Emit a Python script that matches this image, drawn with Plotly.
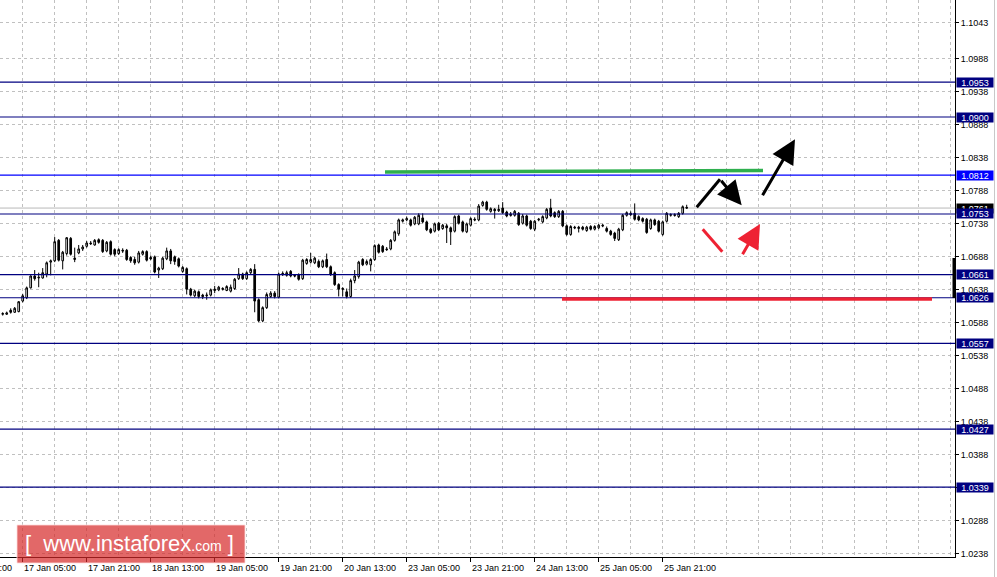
import plotly.graph_objects as go

# ---------------- data ----------------
bar_index = list(range(-5, 167))  # H1 bars, 0 = 17 Jan 05:00

opens = [1.0601,1.0601,1.0607,1.0604,1.0605,
 1.0621,1.0626,1.0641,1.0659,1.0656,1.0656,1.0662,1.0680,1.0682,1.0713,
 1.0682,1.0693,1.0716,1.0684,1.0694,1.0700,1.0704,1.0709,1.0706,1.0714,
 1.0713,1.0697,1.0711,1.0699,1.0693,1.0698,1.0698,1.0687,1.0684,1.0680,
 1.0692,1.0696,1.0687,1.0688,1.0668,1.0670,1.0685,1.0697,1.0688,1.0685,
 1.0666,1.0670,1.0639,1.0629,1.0635,1.0630,1.0629,1.0630,1.0637,1.0638,
 1.0640,1.0637,1.0636,1.0640,1.0655,1.0662,1.0655,1.0664,1.0669,1.0623,
 1.0591,1.0611,1.0628,1.0633,1.0627,1.0661,1.0660,1.0666,1.0660,1.0661,
 1.0655,1.0678,1.0680,1.0679,1.0681,1.0673,1.0684,1.0673,1.0664,1.0646,
 1.0640,1.0635,1.0628,1.0652,1.0658,1.0684,1.0677,1.0676,1.0684,1.0706,
 1.0704,1.0700,1.0700,1.0713,1.0723,1.0742,1.0744,1.0744,1.0738,1.0738,
 1.0747,1.0741,1.0730,1.0727,1.0739,1.0731,1.0735,1.0732,1.0727,1.0750,
 1.0741,1.0726,1.0736,1.0745,1.0744,1.0766,1.0771,1.0757,1.0760,1.0758,
 1.0762,1.0756,1.0753,1.0751,1.0754,1.0739,1.0750,1.0742,1.0730,1.0744,
 1.0741,1.0747,1.0762,1.0755,1.0749,1.0757,1.0735,1.0722,1.0733,1.0731,
 1.0733,1.0728,1.0734,1.0730,1.0732,1.0736,1.0731,1.0727,1.0724,1.0714,
 1.0729,1.0751,1.0754,1.0754,1.0749,1.0746,1.0745,1.0731,1.0744,1.0742,
 1.0722,1.0742,1.0751,1.0752,1.0749,1.0754,1.0763]

highs = [1.0604,1.0605,1.0610,1.0612,1.0621,
 1.0632,1.0643,1.0660,1.0668,1.0664,1.0671,1.0681,1.0684,1.0718,1.0715,
 1.0697,1.0718,1.0718,1.0702,1.0706,1.0706,1.0712,1.0712,1.0715,1.0716,
 1.0715,1.0712,1.0713,1.0701,1.0701,1.0701,1.0700,1.0689,1.0688,1.0697,
 1.0698,1.0698,1.0690,1.0690,1.0673,1.0688,1.0702,1.0700,1.0690,1.0687,
 1.0674,1.0672,1.0641,1.0638,1.0637,1.0632,1.0634,1.0640,1.0644,1.0644,
 1.0642,1.0645,1.0646,1.0656,1.0671,1.0664,1.0666,1.0671,1.0677,1.0625,
 1.0613,1.0634,1.0636,1.0636,1.0664,1.0666,1.0667,1.0668,1.0662,1.0663,
 1.0685,1.0686,1.0694,1.0688,1.0684,1.0684,1.0693,1.0675,1.0666,1.0648,
 1.0642,1.0640,1.0655,1.0668,1.0682,1.0686,1.0684,1.0686,1.0707,1.0708,
 1.0706,1.0703,1.0715,1.0728,1.0746,1.0746,1.0749,1.0746,1.0750,1.0754,
 1.0754,1.0743,1.0732,1.0740,1.0741,1.0738,1.0738,1.0734,1.0751,1.0752,
 1.0743,1.0740,1.0748,1.0748,1.0768,1.0773,1.0773,1.0763,1.0762,1.0767,
 1.0771,1.0758,1.0756,1.0759,1.0756,1.0753,1.0752,1.0744,1.0744,1.0747,
 1.0751,1.0762,1.0776,1.0757,1.0759,1.0759,1.0737,1.0736,1.0735,1.0735,
 1.0735,1.0735,1.0736,1.0736,1.0738,1.0738,1.0734,1.0729,1.0726,1.0732,
 1.0753,1.0757,1.0757,1.0769,1.0751,1.0748,1.0747,1.0746,1.0746,1.0744,
 1.0743,1.0756,1.0754,1.0754,1.0756,1.0766,1.0767]

lows = [1.0599,1.0600,1.0602,1.0603,1.0604,
 1.0619,1.0624,1.0640,1.0652,1.0642,1.0655,1.0657,1.0660,1.0680,1.0681,
 1.0669,1.0690,1.0690,1.0680,1.0692,1.0697,1.0702,1.0706,1.0705,1.0708,
 1.0694,1.0695,1.0690,1.0689,1.0691,1.0694,1.0682,1.0679,1.0676,1.0678,
 1.0690,1.0681,1.0683,1.0663,1.0656,1.0668,1.0683,1.0677,1.0676,1.0672,
 1.0664,1.0631,1.0628,1.0627,1.0625,1.0624,1.0623,1.0628,1.0633,1.0636,
 1.0637,1.0636,1.0634,1.0638,1.0653,1.0653,1.0653,1.0662,1.0604,1.0589,
 1.0589,1.0609,1.0626,1.0625,1.0625,1.0659,1.0658,1.0657,1.0657,1.0652,
 1.0653,1.0676,1.0678,1.0677,1.0671,1.0671,1.0671,1.0659,1.0644,1.0628,
 1.0628,1.0625,1.0626,1.0648,1.0655,1.0674,1.0675,1.0666,1.0682,1.0693,
 1.0694,1.0697,1.0698,1.0711,1.0720,1.0740,1.0742,1.0734,1.0736,1.0736,
 1.0739,1.0727,1.0723,1.0725,1.0727,1.0729,1.0709,1.0706,1.0725,1.0737,
 1.0725,1.0724,1.0734,1.0742,1.0742,1.0764,1.0758,1.0755,1.0746,1.0756,
 1.0753,1.0748,1.0749,1.0749,1.0735,1.0737,1.0734,1.0729,1.0727,1.0742,
 1.0739,1.0745,1.0748,1.0747,1.0747,1.0733,1.0720,1.0720,1.0730,1.0725,
 1.0728,1.0726,1.0728,1.0728,1.0730,1.0733,1.0725,1.0720,1.0712,1.0712,
 1.0727,1.0749,1.0750,1.0743,1.0742,1.0740,1.0723,1.0729,1.0735,1.0725,
 1.0720,1.0740,1.0749,1.0749,1.0747,1.0752,1.0761]

closes = [1.0602,1.0603,1.0604,1.0610,1.0620,
 1.0629,1.0641,1.0659,1.0655,1.0657,1.0664,1.0679,1.0682,1.0711,1.0683,
 1.0695,1.0717,1.0692,1.0686,1.0700,1.0703,1.0709,1.0708,1.0713,1.0710,
 1.0696,1.0710,1.0692,1.0692,1.0699,1.0697,1.0684,1.0682,1.0679,1.0694,
 1.0696,1.0683,1.0685,1.0665,1.0671,1.0686,1.0697,1.0682,1.0681,1.0674,
 1.0672,1.0639,1.0630,1.0636,1.0628,1.0628,1.0630,1.0638,1.0639,1.0642,
 1.0639,1.0643,1.0642,1.0654,1.0662,1.0655,1.0664,1.0669,1.0621,1.0591,
 1.0611,1.0631,1.0633,1.0628,1.0662,1.0663,1.0664,1.0659,1.0659,1.0654,
 1.0683,1.0684,1.0684,1.0686,1.0673,1.0682,1.0673,1.0661,1.0646,1.0639,
 1.0639,1.0628,1.0652,1.0659,1.0680,1.0676,1.0681,1.0684,1.0705,1.0695,
 1.0696,1.0699,1.0713,1.0726,1.0744,1.0744,1.0746,1.0736,1.0748,1.0751,
 1.0741,1.0729,1.0725,1.0738,1.0729,1.0736,1.0732,1.0726,1.0749,1.0739,
 1.0727,1.0738,1.0746,1.0744,1.0765,1.0771,1.0760,1.0761,1.0758,1.0760,
 1.0755,1.0750,1.0751,1.0757,1.0737,1.0750,1.0736,1.0731,1.0742,1.0745,
 1.0749,1.0760,1.0750,1.0749,1.0757,1.0735,1.0722,1.0734,1.0732,1.0733,
 1.0730,1.0733,1.0730,1.0734,1.0736,1.0735,1.0727,1.0722,1.0716,1.0730,
 1.0751,1.0755,1.0752,1.0745,1.0744,1.0742,1.0725,1.0744,1.0737,1.0727,
 1.0741,1.0754,1.0752,1.0751,1.0754,1.0764,1.0762]

time_tick_index = [-16, 0, 16, 32, 48, 64, 80, 96, 112, 128, 144, 160]
time_tick_labels = ["16 Jan 13:00", "17 Jan 05:00", "17 Jan 21:00", "18 Jan 13:00",
                    "19 Jan 05:00", "19 Jan 21:00", "20 Jan 13:00", "23 Jan 05:00",
                    "23 Jan 21:00", "24 Jan 13:00", "25 Jan 05:00", "25 Jan 21:00"]

price_ticks = [1.0238, 1.0288, 1.0338, 1.0388, 1.0438, 1.0488, 1.0538, 1.0588,
               1.0638, 1.0688, 1.0738, 1.0788, 1.0838, 1.0888, 1.0938, 1.0988, 1.1043]

level_prices = [1.0953, 1.0900, 1.0812, 1.0753, 1.0661, 1.0626, 1.0557, 1.0427, 1.0339]
level_colors = ["#000080", "#000080", "#0000FF", "#000080", "#000080", "#000080",
                "#000080", "#000080", "#000080"]
bid_price = 1.0762
bid_label = "1.0761"

# ---------------- layout geometry ----------------
W, H = 997, 577
PLOT_W, PLOT_H = 955, 557
X_RANGE = [-5.675, 233.075]
Y_RANGE = [1.02330, 1.10774]
FONT = "Liberation Sans"


def px(x):
    return x / PLOT_W


def py(y):
    return 1 - y / PLOT_H


def xidx_paper(i):
    return (i - X_RANGE[0]) / (X_RANGE[1] - X_RANGE[0])


fig = go.Figure()
fig.add_trace(go.Candlestick(
    x=bar_index, open=opens, high=highs, low=lows, close=closes,
    increasing=dict(line=dict(color="black", width=1), fillcolor="white"),
    decreasing=dict(line=dict(color="black", width=1), fillcolor="black"),
    whiskerwidth=0, showlegend=False, hoverinfo="skip",
))

shapes = []
# level lines
for p, c in zip(level_prices, level_colors):
    shapes.append(dict(type="line", xref="paper", yref="y", x0=0, x1=1, y0=p, y1=p,
                       line=dict(color=c, width=1.2), layer="above"))
# bid line
shapes.append(dict(type="line", xref="paper", yref="y", x0=0, x1=1, y0=bid_price, y1=bid_price,
                   line=dict(color="#B8B8B8", width=1), layer="below"))

# drawn analysis lines
shapes.append(dict(type="line", xref="paper", yref="paper", x0=px(385), y0=py(172), x1=px(763), y1=py(170.5),
                   line=dict(color="#2EAF4E", width=3.5)))
shapes.append(dict(type="line", xref="paper", yref="paper", x0=px(562), y0=py(299), x1=px(932), y1=py(299),
                   line=dict(color="#EE2233", width=3.5)))
shapes.append(dict(type="line", xref="paper", yref="paper", x0=px(696.7), y0=py(207.3), x1=px(720), y1=py(179.3),
                   line=dict(color="black", width=3)))
shapes.append(dict(type="line", xref="paper", yref="paper", x0=px(702.7), y0=py(229.3), x1=px(722.3), y1=py(251.7),
                   line=dict(color="#EE2233", width=3)))

# right edge window line & marker bar
shapes.append(dict(type="line", xref="paper", yref="paper", x0=px(994.5), x1=px(994.5), y0=py(577), y1=1,
                   line=dict(color="#C8C8C8", width=1)))
shapes.append(dict(type="rect", xref="paper", yref="paper", x0=px(952.5), x1=px(955.5), y0=py(298), y1=py(258),
                   fillcolor="black", line=dict(width=0)))

# watermark box
shapes.append(dict(type="rect", xref="paper", yref="paper", x0=px(17), x1=px(245), y0=py(563), y1=py(525),
                   fillcolor="rgba(214,40,40,0.7)", line=dict(color="rgba(255,220,220,0.8)", width=1),
                   layer="above"))

annotations = []
# arrows
for tip, off, col in [((741.7, 205.3), (-21.7, -26), "black"),
                      ((795, 139.3), (-33.3, 57.4), "black"),
                      ((760, 224), (-18.3, 31.7), "#EE2233")]:
    annotations.append(dict(xref="paper", yref="paper", x=px(tip[0]), y=py(tip[1]), ax=off[0], ay=off[1],
                            text="", showarrow=True, arrowhead=2, arrowsize=1.6, arrowwidth=3,
                            arrowcolor=col, standoff=0))

# time labels (left aligned at tick)
for i, lab in zip(time_tick_index, time_tick_labels):
    annotations.append(dict(xref="paper", yref="paper", x=xidx_paper(i), y=py(561), xanchor="left",
                            yanchor="top", text=lab, showarrow=False,
                            font=dict(family=FONT, size=9, color="black"), xshift=-1))

# bid label (behind)
annotations.append(dict(xref="paper", yref="y", x=1, y=bid_price, xanchor="left", yanchor="middle",
                        text=bid_label, showarrow=False, bgcolor="black", width=36, height=9,
                        borderpad=0, xshift=1, yshift=0,
                        font=dict(family=FONT, size=9, color="white")))
# level labels
for p, c in zip(level_prices, level_colors):
    annotations.append(dict(xref="paper", yref="y", x=1, y=p, xanchor="left", yanchor="middle",
                            text=f"{p:.4f}", showarrow=False, bgcolor=c, width=36, height=9,
                            borderpad=0, xshift=1,
                            font=dict(family=FONT, size=9, color="white")))

# watermark text
annotations.append(dict(xref="paper", yref="paper", x=px(129), y=py(543), xanchor="center", yanchor="middle",
                        text="[  www.instaforex<span style='font-size:14px'>.com</span> ]",
                        showarrow=False, font=dict(family=FONT, size=22, color="white")))

fig.update_layout(
    width=W, height=H,
    margin=dict(l=0, r=W - PLOT_W, t=0, b=H - PLOT_H),
    paper_bgcolor="white", plot_bgcolor="white",
    showlegend=False,
    boxgap=0.4,
    shapes=shapes, annotations=annotations,
    xaxis=dict(
        range=X_RANGE, rangeslider=dict(visible=False),
        tickmode="array", tickvals=[t for t in time_tick_index if t >= 0], showticklabels=False,
        ticks="outside", ticklen=4, tickcolor="black", tickwidth=1,
        showgrid=True, gridcolor="#C0C0C0", griddash="3px,3px", gridwidth=1,
        minor=dict(tickmode="linear", tick0=0, dtick=8, showgrid=True, gridcolor="#C0C0C0",
                   griddash="3px,3px", gridwidth=1, ticks=""),
        showline=True, linecolor="black", linewidth=1, zeroline=False, fixedrange=True,
    ),
    yaxis=dict(
        range=Y_RANGE, side="right",
        tickmode="array", tickvals=price_ticks, ticktext=[f"{v:.4f}" for v in price_ticks],
        ticks="outside", ticklen=3, tickcolor="black",
        tickfont=dict(family=FONT, size=9, color="black"),
        showgrid=True, gridcolor="#C0C0C0", griddash="3px,3px", gridwidth=1,
        showline=True, linecolor="black", linewidth=1, zeroline=False, fixedrange=True,
    ),
)

fig.write_html("out.html", config={"displayModeBar": False},
               post_script="document.body.style.margin='0';document.body.style.overflow='hidden';")
